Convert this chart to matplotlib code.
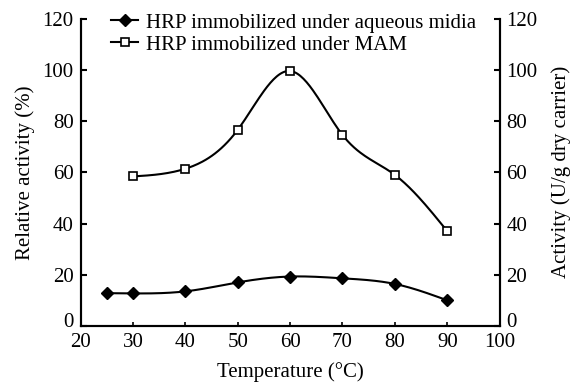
import numpy as np
import matplotlib.pyplot as plt
from matplotlib.transforms import ScaledTranslation

plt.rcParams['font.family'] = ['Liberation Serif', 'DejaVu Serif']
plt.rcParams['font.size'] = 15

# data
temp_aq = [25, 30, 40, 50, 60, 70, 80, 90]
act_aq = [12.8, 12.7, 13.5, 17.0, 19.3, 18.6, 16.4, 10.0]
temp_mam = [30, 40, 50, 60, 70, 80, 90]
act_mam = [58.4, 61.4, 76.6, 99.6, 74.6, 59.0, 37.0]


def smooth(x, y, n=200):
    # natural cubic spline, just for drawing the curve
    x = np.asarray(x, float)
    y = np.asarray(y, float)
    k = len(x)
    h = np.diff(x)
    A = np.zeros((k, k))
    b = np.zeros(k)
    A[0, 0] = A[-1, -1] = 1
    for i in range(1, k - 1):
        A[i, i - 1] = h[i - 1]
        A[i, i] = 2 * (h[i - 1] + h[i])
        A[i, i + 1] = h[i]
        b[i] = 3 * ((y[i + 1] - y[i]) / h[i] - (y[i] - y[i - 1]) / h[i - 1])
    c = np.linalg.solve(A, b)
    xs = np.linspace(x[0], x[-1], n)
    ys = np.empty_like(xs)
    for j, xv in enumerate(xs):
        i = min(np.searchsorted(x, xv, side='right') - 1, k - 2)
        dx = xv - x[i]
        bi = (y[i + 1] - y[i]) / h[i] - h[i] * (2 * c[i] + c[i + 1]) / 3
        di = (c[i + 1] - c[i]) / (3 * h[i])
        ys[j] = y[i] + bi * dx + c[i] * dx ** 2 + di * dx ** 3
    return xs, ys


fig, ax = plt.subplots(figsize=(5.75, 3.83), dpi=100)
fig.subplots_adjust(left=0.140, right=0.869, top=0.951, bottom=0.149)
ax2 = ax.twinx()

xs, ys = smooth(temp_aq, act_aq)
ax.plot(xs, ys, color='black', lw=1.5)
ax.plot(temp_aq, act_aq, 'D', color='black', ms=6, ls='none')

xs, ys = smooth(temp_mam, act_mam)
ax2.plot(xs, ys, color='black', lw=1.5)
ax2.plot(temp_mam, act_mam, 's', mfc='white', mec='black', mew=1.2, ms=5.5, ls='none')

for a in (ax, ax2):
    a.set_xlim(20, 100)
    a.set_ylim(0, 120)
    a.set_yticks(range(0, 121, 20))
    a.spines['top'].set_visible(False)
    for s in a.spines.values():
        s.set_linewidth(1.5)
ax.tick_params(axis='y', direction='in', length=4, width=1.5, pad=5)
ax2.tick_params(axis='y', direction='in', length=4, width=1.5, pad=5)
ax.tick_params(axis='x', direction='in', length=3, width=1.2, pad=5)
ax.set_xticks(range(20, 101, 10))

# the "0" labels sit a little higher than their ticks
up = ScaledTranslation(0, 4 / 72, fig.dpi_scale_trans)
for a in (ax, ax2):
    lab = a.get_yticklabels()[0]
    lab.set_transform(lab.get_transform() + up)

ax.set_xlabel('Temperature (°C)', labelpad=7)
ax.set_ylabel('Relative activity (%)', labelpad=5)
ax2.set_ylabel('Activity (U/g dry carrier)', labelpad=10)

h1 = plt.Line2D([], [], color='black', lw=1.5, marker='D', ms=6)
h2 = plt.Line2D([], [], color='black', lw=1.5, marker='s', mfc='white', mew=1.2, ms=5.5)
fig.legend([h1, h2], ['HRP immobilized under aqueous midia', 'HRP immobilized under MAM'],
           loc='upper left', bbox_to_anchor=(0.193, 0.966), frameon=False,
           handlelength=1.3, handletextpad=0.4, labelspacing=0.12,
           borderpad=0, borderaxespad=0)

fig.savefig('out.png', dpi=100)
